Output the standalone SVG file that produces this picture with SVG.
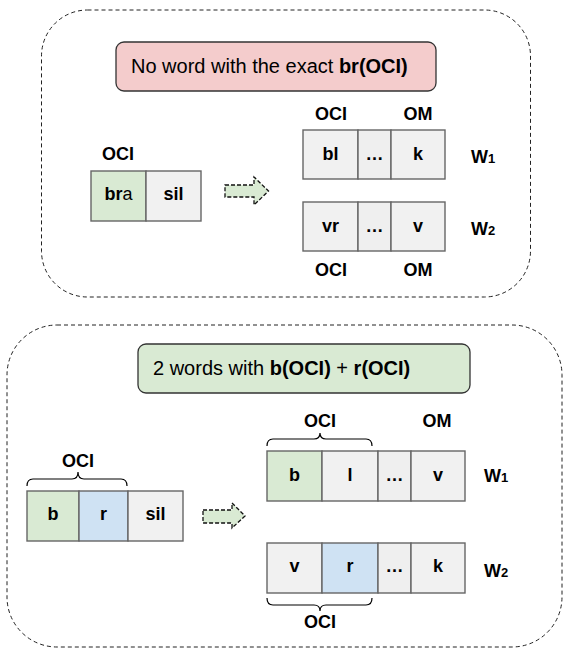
<svg xmlns="http://www.w3.org/2000/svg" width="563" height="648" viewBox="0 0 563 648">
  <style>
    .panel { fill: none; stroke: #222; stroke-width: 1; stroke-dasharray: 4 3; }
    .title { stroke: #333; stroke-width: 1.3; }
    .cell { stroke: #666; stroke-width: 1.4; }
    .grey { fill: #f1f1f1; }
    .dots { fill: #efefef; }
    .green { fill: #d9ead3; }
    .blue { fill: #cfe2f3; }
    .pink { fill: #f4cccc; }
    text { font-family: "Liberation Sans", Arial, sans-serif; fill: #000; }
    .t20 { font-size: 20px; }
    .lbl { font-size: 18px; font-weight: bold; text-anchor: middle; }
    .w { font-size: 18px; font-weight: bold; }
    .sub { font-size: 13px; }
    .arrow { fill: #d9ead3; stroke: #111; stroke-width: 1.3; stroke-dasharray: 4 2; }
    .brace { fill: none; stroke: #000; stroke-width: 1.2; }
  </style>

  <!-- upper panel: no exact match -->
  <g id="panel-top">
    <rect class="panel" x="41.5" y="10" width="489" height="287" rx="46" ry="46"/>
    <g id="title-top">
      <rect class="title pink" x="116" y="42" width="320" height="49" rx="8" ry="8"/>
      <text class="t20" x="131" y="73">No word with the exact <tspan font-weight="bold">br(OCI)</tspan></text>
    </g>
    <g id="query-top">
      <text class="lbl" x="118" y="160">OCI</text>
      <rect class="cell green" x="91" y="171" width="55" height="50"/>
      <rect class="cell grey" x="146" y="171" width="55" height="50"/>
      <text class="lbl" x="118.5" y="200"><tspan>br</tspan><tspan font-weight="normal">a</tspan></text>
      <text class="lbl" x="173.5" y="200">sil</text>
    </g>
    <g id="word1-top">
      <text class="lbl" x="331" y="120">OCI</text>
      <text class="lbl" x="418" y="120">OM</text>
      <rect class="cell grey" x="303" y="130" width="55" height="49"/>
      <rect class="cell dots" x="358" y="130" width="33" height="49"/>
      <rect class="cell grey" x="391" y="130" width="54" height="49"/>
      <text class="lbl" x="330.5" y="160">bl</text>
      <text class="lbl" x="374.5" y="160">…</text>
      <text class="lbl" x="418" y="160">k</text>
      <text class="w" x="471" y="163">W<tspan class="sub">1</tspan></text>
    </g>
    <g id="word2-top">
      <rect class="cell grey" x="303" y="202" width="55" height="49"/>
      <rect class="cell dots" x="358" y="202" width="33" height="49"/>
      <rect class="cell grey" x="391" y="202" width="54" height="49"/>
      <text class="lbl" x="330.5" y="232">vr</text>
      <text class="lbl" x="374.5" y="232">…</text>
      <text class="lbl" x="418" y="232">v</text>
      <text class="w" x="471" y="235">W<tspan class="sub">2</tspan></text>
      <text class="lbl" x="331" y="276">OCI</text>
      <text class="lbl" x="418" y="276">OM</text>
    </g>
  </g>

  <!-- lower panel: split match -->
  <g id="panel-bottom">
    <rect class="panel" x="7" y="325" width="555" height="322" rx="50" ry="50"/>
    <g id="title-bottom">
      <rect class="title green" x="138" y="344" width="332" height="49" rx="8" ry="8"/>
      <text class="t20" x="153" y="375">2 words with <tspan font-weight="bold">b(OCI)</tspan> + <tspan font-weight="bold">r(OCI)</tspan></text>
    </g>
    <g id="query-bottom">
      <text class="lbl" x="78" y="467">OCI</text>
      <rect class="cell green" x="27" y="491" width="52" height="50"/>
      <rect class="cell blue" x="79" y="491" width="49" height="50"/>
      <rect class="cell grey" x="128" y="491" width="55" height="50"/>
      <text class="lbl" x="53" y="520">b</text>
      <text class="lbl" x="103.5" y="520">r</text>
      <text class="lbl" x="155.5" y="520">sil</text>
    </g>
    <g id="word1-bottom">
      <text class="lbl" x="320" y="427">OCI</text>
      <text class="lbl" x="437" y="427">OM</text>
      <rect class="cell green" x="267" y="451" width="55" height="50"/>
      <rect class="cell grey" x="322" y="451" width="56" height="50"/>
      <rect class="cell dots" x="378" y="451" width="33" height="50"/>
      <rect class="cell grey" x="411" y="451" width="54" height="50"/>
      <text class="lbl" x="294.5" y="481">b</text>
      <text class="lbl" x="350" y="481">l</text>
      <text class="lbl" x="394.5" y="481">…</text>
      <text class="lbl" x="438" y="481">v</text>
      <text class="w" x="484" y="482">W<tspan class="sub">1</tspan></text>
    </g>
    <g id="word2-bottom">
      <rect class="cell grey" x="267" y="543" width="55" height="50"/>
      <rect class="cell blue" x="322" y="543" width="56" height="50"/>
      <rect class="cell dots" x="378" y="543" width="33" height="50"/>
      <rect class="cell grey" x="411" y="543" width="54" height="50"/>
      <text class="lbl" x="294.5" y="572">v</text>
      <text class="lbl" x="350" y="572">r</text>
      <text class="lbl" x="394.5" y="572">…</text>
      <text class="lbl" x="438" y="572">k</text>
      <text class="w" x="484" y="577">W<tspan class="sub">2</tspan></text>
      <text class="lbl" x="320" y="628">OCI</text>
    </g>
  </g>

  <!-- connectors: block arrows and braces -->
  <g id="connectors">
    <polygon class="arrow" points="225,185 254,185 254,177 268.5,191 254,205 254,197 225,197"/>
    <polygon class="arrow" points="203,510 232,510 232,503 245,516 232,528 232,523 203,523"/>
    <path class="brace" d="M27,486 Q27,479 33,479 L72,479 Q78,479 78,472 Q78,479 84,479 L121,479 Q127,479 127,486"/>
    <path class="brace" d="M267,446 Q267,439 273,439 L314,439 Q320,439 320,433 Q320,439 326,439 L366,439 Q372,439 372,446"/>
    <path class="brace" d="M267,598 Q267,605 273,605 L314,605 Q320,605 320,611 Q320,605 326,605 L366,605 Q372,605 372,598"/>
  </g>
</svg>
